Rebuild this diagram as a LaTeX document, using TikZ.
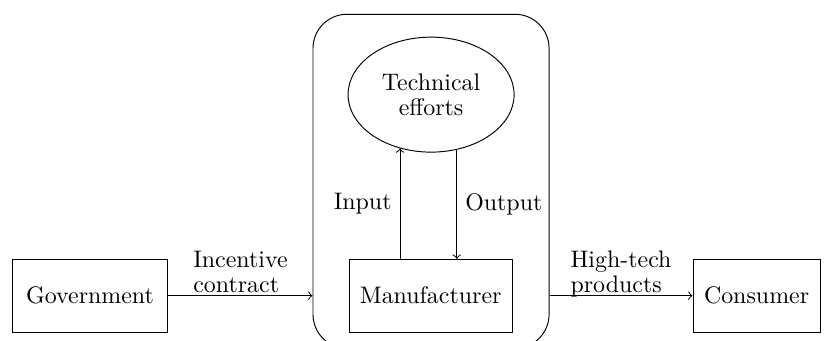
\documentclass[tikz,border=0pt]{standalone}
\usepackage{tikz}
\usetikzlibrary{shapes.geometric}

\begin{document}
\begin{tikzpicture}[box/.style={draw, rectangle, minimum height=1.07cm},
    lbl/.style={align=left, font=\fontsize{10}{10.5}\selectfont, text depth=0pt, inner sep=1pt}]
    \useasboundingbox (0,0) rectangle (12.14,5.0);
    % Rounded frame around the manufacturer side
    \node[draw, rectangle, rounded corners=0.5cm, minimum width=3.47cm, minimum height=4.91cm] (frame) at (6.335, 2.335) {};

    % Boxes and ellipse
    \node[box, minimum width=2.29cm] (gov) at (1.323, 0.654) {Government};
    \node[box, minimum width=2.40cm] (man) at (6.33, 0.654) {Manufacturer};
    \node[box, minimum width=1.87cm] (con) at (11.12, 0.654) {Consumer};
    \node[draw, ellipse, minimum width=2.44cm, minimum height=1.69cm, align=center, font=\fontsize{10}{10.5}\selectfont] (tech) at (6.336, 3.609) {Technical\\efforts};

    % Arrows with labels
    \draw[->] (gov.east) -- node[lbl, above] {Incentive\\contract} (gov.east -| frame.west);
    \draw[->] (tech.240 |- man.north) -- node[left] {Input} (tech.240);
    \draw[->] (tech.295) -- node[right] {Output} (tech.295 |- man.north);
    \draw[->] (man.east -| frame.east) -- node[lbl, above] {High-tech\\products} (con.west);
\end{tikzpicture}
\end{document}
